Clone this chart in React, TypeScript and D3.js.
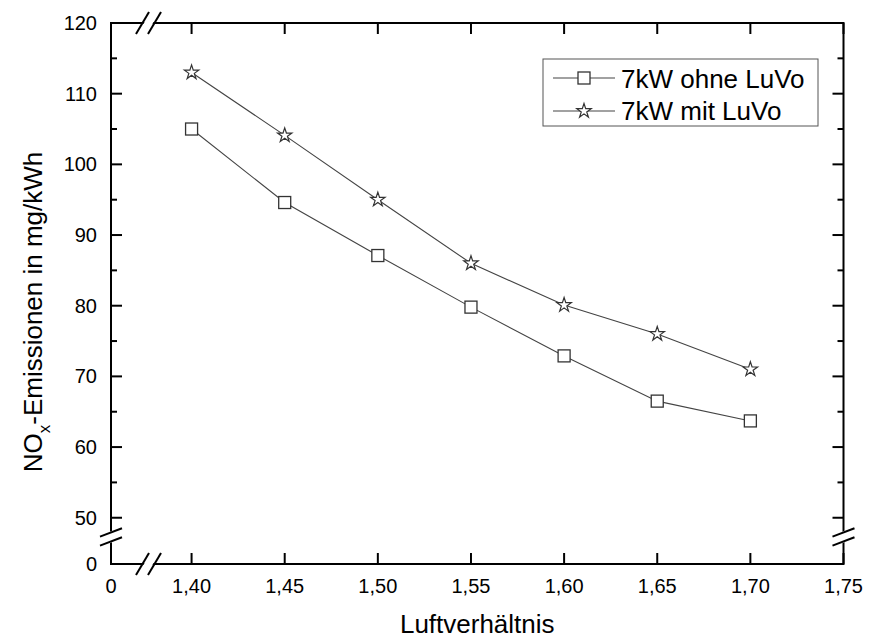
import React from "react";
import * as d3 from "d3";

const lambda = [1.4, 1.45, 1.5, 1.55, 1.6, 1.65, 1.7];
const ohneLuVo = [105, 94.6, 87.1, 79.8, 72.9, 66.5, 63.7];
const mitLuVo = [113, 104.1, 95, 86, 80.1, 76, 71];
const seriesNames = ["7kW ohne LuVo", "7kW mit LuVo"];
const xTicks = [1.4, 1.45, 1.5, 1.55, 1.6, 1.65, 1.7, 1.75];
const yMajor = [50, 60, 70, 80, 90, 100, 110, 120];
const yMinor = [55, 65, 75, 85, 95, 105, 115];
const xLabel = "Luftverhältnis";

const W = 873, H = 640;
const left = 111, right = 843.5, top = 23, bottom = 564;
const font = "Arial, 'Liberation Sans', sans-serif";

export default function App() {
  const pw = right - left, ph = bottom - top;
  const x = d3.scaleLinear().domain([1.4, 1.75]).range([left + 0.11 * pw, right]);
  const y = d3.scaleLinear().domain([50, 120]).range([top + 0.9145 * ph, top]);
  const fmt = (v: number) => d3.format(".2f")(v).replace(".", ",");
  const line = d3.line<number>().x((_, i) => x(lambda[i])).y((d) => y(d));
  const star = d3.symbol(d3.symbolStar, 64)() as string;
  const sq = 12;
  const ink = "#000";
  const mk = "#333";

  const xb1 = left + 0.043 * pw, xb2 = xb1 + 12;
  const yb = bottom - 0.05 * ph;
  const ybGap = 9;

  const slashX = (cx: number, cy: number) => `M${cx - 6.5},${cy + 11}L${cx + 6.5},${cy - 11}`;
  const slashY = (cx: number, cy: number) => `M${cx - 11},${cy + 4.2}L${cx + 11},${cy - 4.2}`;

  const Square = ({ cx, cy }: { cx: number; cy: number }) => (
    <rect x={cx - sq / 2} y={cy - sq / 2} width={sq} height={sq} fill="#fff" stroke={mk} strokeWidth={1.3} />
  );
  const Star = ({ cx, cy }: { cx: number; cy: number }) => (
    <path d={star} transform={`translate(${cx},${cy})`} fill="#fff" stroke={mk} strokeWidth={1.2} />
  );

  return (
    <svg width={W} height={H} style={{ position: "absolute", left: 0, top: 0, background: "#fff" }} fontFamily={font}>
      <rect width={W} height={H} fill="#fff" />
      <rect x={left} y={top} width={pw} height={ph} fill="none" stroke={ink} strokeWidth={2} />
      <g fill="#fff" stroke="none">
        {[bottom, top].map((by, i) => (
          <polygon key={"xg" + i} points={`${xb1 - 6.5 + 1.5},${by + 11} ${xb1 + 6.5 + 1.5},${by - 11} ${xb2 + 6.5 - 1.5},${by - 11} ${xb2 - 6.5 - 1.5},${by + 11}`} />
        ))}
        {[left, right].map((bx, i) => (
          <polygon key={"yg" + i} points={`${bx - 11},${yb - ybGap / 2 + 4.2 - 1.2} ${bx + 11},${yb - ybGap / 2 - 4.2 - 1.2} ${bx + 11},${yb + ybGap / 2 - 4.2 + 1.2} ${bx - 11},${yb + ybGap / 2 + 4.2 + 1.2}`} />
        ))}
      </g>
      <g stroke={ink} strokeWidth={2} fill="none">
        {[bottom, top].map((by, i) => (
          <g key={"xs" + i}>
            <path d={slashX(xb1, by)} />
            <path d={slashX(xb2, by)} />
          </g>
        ))}
        {[left, right].map((bx, i) => (
          <g key={"ys" + i}>
            <path d={slashY(bx, yb - ybGap / 2)} />
            <path d={slashY(bx, yb + ybGap / 2)} />
          </g>
        ))}
      </g>
      <g stroke={ink} strokeWidth={2}>
        {xTicks.map((t) => (
          <g key={"xt" + t}>
            <line x1={x(t)} x2={x(t)} y1={bottom} y2={bottom - 11} />
            <line x1={x(t)} x2={x(t)} y1={top} y2={top + 11} />
          </g>
        ))}
        {yMajor.map((t) => (
          <g key={"yt" + t}>
            <line x1={left} x2={left + 11} y1={y(t)} y2={y(t)} />
            <line x1={right} x2={right - 11} y1={y(t)} y2={y(t)} />
          </g>
        ))}
        {yMinor.map((t) => (
          <g key={"ym" + t}>
            <line x1={left} x2={left + 6} y1={y(t)} y2={y(t)} />
            <line x1={right} x2={right - 6} y1={y(t)} y2={y(t)} />
          </g>
        ))}
      </g>
      <g fontSize={20} fill={ink}>
        {xTicks.map((t) => (
          <text key={"xl" + t} x={x(t)} y={bottom + 29} textAnchor="middle">{fmt(t)}</text>
        ))}
        <text x={left} y={bottom + 29} textAnchor="middle">0</text>
        {yMajor.map((t) => (
          <text key={"yl" + t} x={left - 14} y={y(t) + 7} textAnchor="end">{t}</text>
        ))}
        <text x={left - 14} y={bottom + 7} textAnchor="end">0</text>
      </g>
      <text x={(left + right) / 2} y={633} textAnchor="middle" fontSize={26} fill={ink}>{xLabel}</text>
      <text transform={`translate(42,312) rotate(-90)`} textAnchor="middle" fontSize={26} fill={ink}>
        NO<tspan fontSize={17} dy={8}>x</tspan><tspan dy={-8}>-Emissionen in mg/kWh</tspan>
      </text>
      <path d={line(ohneLuVo) as string} fill="none" stroke="#444" strokeWidth={1.1} />
      <path d={line(mitLuVo) as string} fill="none" stroke="#444" strokeWidth={1.1} />
      {ohneLuVo.map((v, i) => <Square key={"s" + i} cx={x(lambda[i])} cy={y(v)} />)}
      {mitLuVo.map((v, i) => <Star key={"p" + i} cx={x(lambda[i])} cy={y(v)} />)}
      <g>
        <rect x={543} y={59} width={275} height={67} fill="#fff" stroke="#555" strokeWidth={1} />
        <line x1={553} x2={615} y1={78} y2={78} stroke="#444" strokeWidth={1.1} />
        <Square cx={584} cy={78} />
        <text x={621} y={87.5} fontSize={26} fill={ink}>{seriesNames[0]}</text>
        <line x1={553} x2={615} y1={111} y2={111} stroke="#444" strokeWidth={1.1} />
        <Star cx={584} cy={111} />
        <text x={621} y={120} fontSize={26} fill={ink}>{seriesNames[1]}</text>
      </g>
    </svg>
  );
}
